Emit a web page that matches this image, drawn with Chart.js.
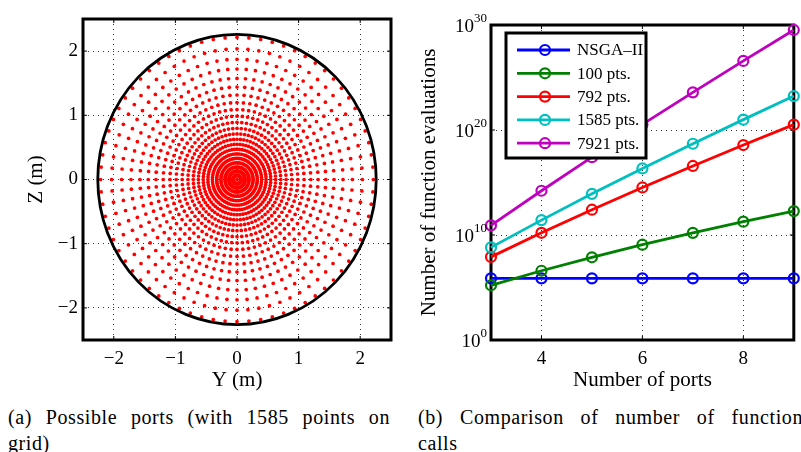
<!DOCTYPE html>
<html>
<head>
<meta charset="utf-8">
<script src="https://cdn.jsdelivr.net/npm/chart.js@4.4.1/dist/chart.umd.min.js"></script>
<style>
  html, body { margin:0; padding:0; background:#fff; }
  body { width:801px; height:452px; position:relative; overflow:hidden; }
  canvas { position:absolute; top:0; }
  .cap { position:absolute; font-family:"Liberation Serif", "Times New Roman", "DejaVu Serif", serif; font-size:20px; line-height:24px;
         color:#000; white-space:nowrap; letter-spacing:0.6px; }
  .just { text-align:justify; text-align-last:justify; white-space:normal; }
</style>
</head>
<body>
<canvas id="ca" width="400" height="400" style="left:0px;width:400px;height:400px"></canvas>
<canvas id="cb" width="401" height="400" style="left:400px;width:401px;height:400px"></canvas>
<div class="cap just" style="left:8px;top:405px;width:382px">(a) Possible ports (with 1585 points on</div>
<div class="cap" style="left:8px;top:431px">grid)</div>
<div class="cap just" style="left:418px;top:405px;width:385px">(b) Comparison of number of function</div>
<div class="cap" style="left:418px;top:431px">calls</div>
<script>
// ---------- data: panel (a) ----------
const ringRadii = [0.065, 0.130, 0.194, 0.261, 0.329, 0.399, 0.472, 0.548, 0.627, 0.710, 0.797,
                   0.890, 0.987, 1.089, 1.198, 1.316, 1.441, 1.575, 1.721, 1.873, 2.035, 2.214];
const raysPerRing = 72;
const boundaryRadius = 2.26;
const axisTicksA = [-2, -1, 0, 1, 2];

// ---------- data: panel (b) ----------
const portCounts = [3, 4, 5, 6, 7, 8, 9];
const seriesLabels = ['NSGA\u2013II', '100 pts.', '792 pts.', '1585 pts.', '7921 pts.'];
const evalsNSGA = [7.5e5, 7.5e5, 7.5e5, 7.5e5, 7.5e5, 7.5e5, 7.5e5];
const evals100  = [1.617e5, 3.921e6, 7.529e7, 1.192e9, 1.601e10, 1.861e11, 1.902e12];
const evals792  = [8.249e7, 1.627e10, 2.564e12, 3.363e14, 3.777e16, 3.706e18, 3.228e20];
const evals1585 = [6.624e8, 2.620e11, 8.284e13, 2.181e16, 4.921e18, 9.706e20, 1.701e23];
const evals7921 = [8.280e10, 1.639e14, 2.595e17, 3.424e20, 3.871e23, 3.830e26, 3.367e29];
const seriesColors = ['#0000ff', '#008000', '#ff0000', '#00bfbf', '#bf00bf'];
const xTicksB = [4, 6, 8];
const yTickExponents = [0, 10, 20, 30];

const FONT = 'Liberation Serif';
const minusFmt = v => (v < 0 ? '\u2212' + Math.abs(v) : String(v));

// points of panel (a) built from rings x rays
const gridPoints = [{x: 0, y: 0}];
ringRadii.forEach(r => {
  for (let k = 0; k < raysPerRing; k++) {
    const t = 2 * Math.PI * k / raysPerRing;
    gridPoints.push({x: r * Math.cos(t), y: r * Math.sin(t)});
  }
});

function boxAndTicks(chart, tickLen) {
  const {ctx, chartArea: a} = chart;
  ctx.save();
  ctx.strokeStyle = '#000';
  ctx.lineWidth = 1;
  const xs = chart.scales.x, ys = chart.scales.y;
  xs.ticks.forEach(t => {
    const px = xs.getPixelForValue(t.value);
    ctx.beginPath();
    ctx.moveTo(px, a.bottom); ctx.lineTo(px, a.bottom - tickLen);
    ctx.moveTo(px, a.top); ctx.lineTo(px, a.top + tickLen);
    ctx.stroke();
  });
  ys.ticks.forEach(t => {
    const py = ys.getPixelForValue(t.value);
    ctx.beginPath();
    ctx.moveTo(a.left, py); ctx.lineTo(a.left + tickLen, py);
    ctx.moveTo(a.right, py); ctx.lineTo(a.right - tickLen, py);
    ctx.stroke();
  });
  ctx.lineWidth = 3;
  ctx.strokeRect(a.left, a.top, a.right - a.left, a.bottom - a.top);
  ctx.restore();
}

const gridStyle = { color: '#333', lineWidth: 1, drawTicks: false };
const borderStyle = { display: false, dash: [1, 4] };
const tickFont = { family: FONT, size: 19 };
const titleFont = { family: FONT, size: 21 };

// ---------- panel (a) ----------
new Chart(document.getElementById('ca'), {
  type: 'scatter',
  data: { datasets: [{
    data: gridPoints, pointRadius: 1.85, pointHoverRadius: 1.85,
    pointBackgroundColor: '#ff0000', pointBorderWidth: 0, showLine: false
  }]},
  options: {
    responsive: false, animation: false, events: [],
    layout: { padding: { top: 19, right: 9, left: 0, bottom: 0 } },
    plugins: { legend: { display: false }, tooltip: { enabled: false } },
    scales: {
      x: { type: 'linear', min: -2.5, max: 2.5,
        afterBuildTicks: s => { s.ticks = axisTicksA.map(v => ({value: v})); },
        afterFit: s => { s.height = 60; },
        grid: gridStyle, border: borderStyle,
        ticks: { font: tickFont, color: '#000', padding: 8, maxRotation: 0, autoSkip: false, callback: minusFmt },
        title: { display: true, text: 'Y (m)', font: titleFont, color: '#000', padding: { top: 0, bottom: 7 } } },
      y: { type: 'linear', min: -2.5, max: 2.5,
        afterBuildTicks: s => { s.ticks = axisTicksA.map(v => ({value: v})); },
        afterFit: s => { s.width = 83; },
        grid: gridStyle, border: borderStyle,
        ticks: { font: tickFont, color: '#000', padding: 5, autoSkip: false, callback: minusFmt },
        title: { display: true, text: 'Z (m)', font: titleFont, color: '#000', padding: { top: 24, bottom: 0 } } }
    }
  },
  plugins: [{
    id: 'circleBox',
    afterDatasetsDraw(chart) {
      const {ctx} = chart;
      const xs = chart.scales.x, ys = chart.scales.y;
      const cx = xs.getPixelForValue(0), cy = ys.getPixelForValue(0);
      const rx = xs.getPixelForValue(boundaryRadius) - cx;
      const ry = cy - ys.getPixelForValue(boundaryRadius);
      ctx.save();
      ctx.strokeStyle = '#000'; ctx.lineWidth = 2.8;
      ctx.beginPath(); ctx.ellipse(cx, cy, rx, ry, 0, 0, 2 * Math.PI); ctx.stroke();
      ctx.restore();
      boxAndTicks(chart, 4);
    }
  }]
});

// ---------- panel (b) ----------
const seriesValues = [evalsNSGA, evals100, evals792, evals1585, evals7921];
new Chart(document.getElementById('cb'), {
  type: 'line',
  data: {
    labels: portCounts,
    datasets: seriesValues.map((vals, i) => ({
      label: seriesLabels[i],
      data: portCounts.map((p, j) => ({x: p, y: vals[j]})),
      borderColor: seriesColors[i], borderWidth: 2.8,
      pointRadius: 5, pointHoverRadius: 5, pointBorderWidth: 2.2,
      pointBorderColor: seriesColors[i], pointBackgroundColor: 'rgba(0,0,0,0)',
      fill: false, tension: 0, clip: false, order: seriesValues.length - i
    }))
  },
  options: {
    responsive: false, animation: false, events: [],
    layout: { padding: { top: 25, right: 4, left: 0, bottom: 0 } },
    plugins: { legend: { display: false }, tooltip: { enabled: false } },
    scales: {
      x: { type: 'linear', min: 3, max: 9,
        afterBuildTicks: s => { s.ticks = xTicksB.map(v => ({value: v})); },
        afterFit: s => { s.height = 60; },
        grid: gridStyle, border: borderStyle,
        ticks: { font: tickFont, color: '#000', padding: 8, maxRotation: 0, autoSkip: false, callback: v => String(v) },
        title: { display: true, text: 'Number of ports', font: titleFont, color: '#000', padding: { top: 0, bottom: 7 } } },
      y: { type: 'logarithmic', min: 1, max: 1e30,
        afterBuildTicks: s => { s.ticks = yTickExponents.map(e => ({value: Math.pow(10, e)})); },
        afterFit: s => { s.width = 91; },
        grid: gridStyle, border: borderStyle,
        ticks: { display: false },
        title: { display: true, text: 'Number of function evaluations', font: titleFont, color: '#000', padding: { top: 17, bottom: 0 } } }
    }
  },
  plugins: [{
    id: 'boxB',
    beforeDatasetsDraw(chart) { boxAndTicks(chart, 4); },
    afterDatasetsDraw(chart) {
      const {ctx, chartArea: a} = chart;
      const ys = chart.scales.y;
      ctx.save();
      // y tick labels 10^e
      ctx.fillStyle = '#000';
      ctx.textAlign = 'left'; ctx.textBaseline = 'alphabetic';
      yTickExponents.forEach(e => {
        const py = ys.getPixelForValue(Math.pow(10, e));
        ctx.font = '19px "' + FONT + '"';
        const base = '10';
        const bw = ctx.measureText(base).width;
        ctx.font = '13px "' + FONT + '"';
        const sw = ctx.measureText(String(e)).width;
        const right = a.left - 4;
        const x0 = right - sw - bw;
        ctx.font = '19px "' + FONT + '"';
        ctx.fillText(base, x0, py + 7);
        ctx.font = '13px "' + FONT + '"';
        ctx.fillText(String(e), x0 + bw, py - 3);
      });
      // legend inside axes
      const x0 = a.left + 15, y0 = a.top + 8, w = 140, h = 125;
      ctx.fillStyle = '#fff'; ctx.fillRect(x0, y0, w, h);
      ctx.lineWidth = 3; ctx.strokeStyle = '#000'; ctx.strokeRect(x0, y0, w, h);
      chart.data.datasets.forEach((ds, i) => {
        const y = y0 + 17 + i * 23.3;
        ctx.strokeStyle = ds.borderColor; ctx.lineWidth = 2.8;
        ctx.beginPath(); ctx.moveTo(x0 + 11, y); ctx.lineTo(x0 + 64, y); ctx.stroke();
        ctx.lineWidth = 2.2;
        ctx.beginPath(); ctx.arc(x0 + 39, y, 5, 0, 2 * Math.PI); ctx.stroke();
        ctx.fillStyle = '#000'; ctx.font = '17px "' + FONT + '"';
        ctx.textBaseline = 'middle'; ctx.fillText(ds.label, x0 + 71, y + 1);
        ctx.textBaseline = 'alphabetic';
      });
      ctx.restore();
    }
  }]
});
</script>
</body>
</html>
